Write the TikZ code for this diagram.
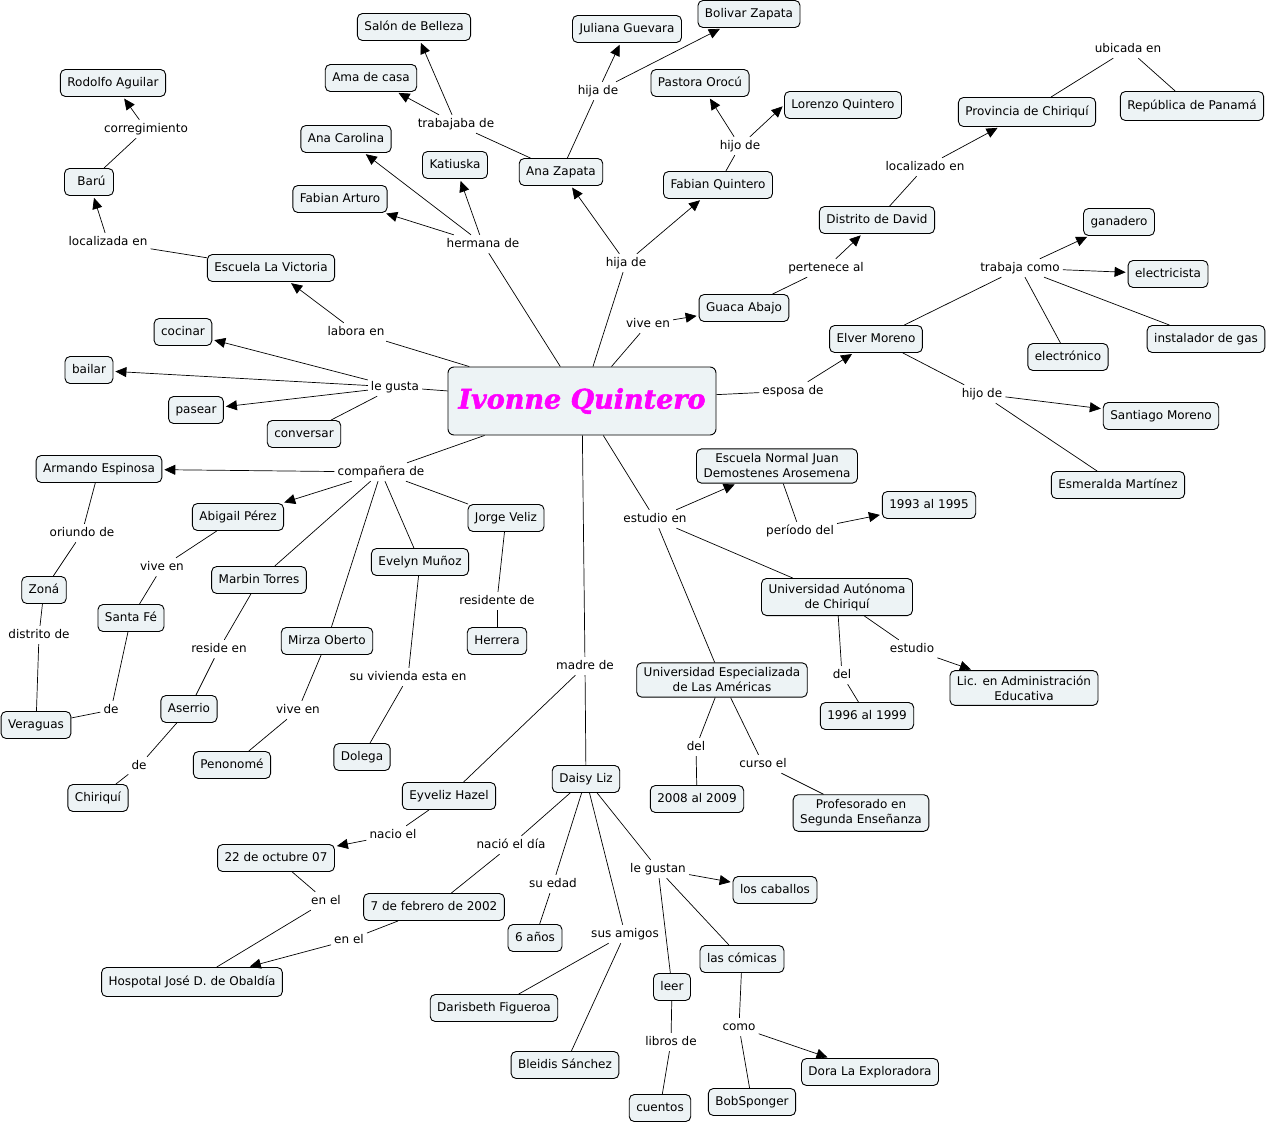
\documentclass[tikz,border=0pt]{standalone}
\usepackage{fontspec}
\setmainfont{DejaVu Sans}
\newfontfamily\titlefont{DejaVu Serif}[BoldItalicFeatures={FakeBold=1.8}]
\usetikzlibrary{arrows.meta}
\definecolor{cfill}{RGB}{237,243,245}
\definecolor{titlemag}{RGB}{255,0,255}
\begin{document}
\begin{tikzpicture}[x=1pt,y=-1pt,
  concept/.style={draw, line width=0.9pt, rounded corners=5pt, fill=cfill, inner xsep=7pt, inner ysep=0pt, minimum height=27pt, text height=9pt, text depth=3pt, font=\fontsize{12}{15}\selectfont},
  concepttwo/.style={draw, line width=0.9pt, rounded corners=5pt, fill=cfill, inner xsep=7pt, inner ysep=5pt, align=center, font=\fontsize{12}{15}\selectfont},
  lp/.style={inner sep=3pt, text height=9pt, text depth=3pt, font=\fontsize{12}{15}\selectfont},
  ln/.style={line width=0.7pt},
  ar/.style={line width=0.7pt, -{Triangle[length=11pt,width=10pt]}, shorten >=2pt},
]
\useasboundingbox[fill=white] (0,0) rectangle (1270,1122);

% main
\node[draw, line width=0.9pt, rounded corners=6pt, fill=cfill, minimum width=268pt, minimum height=68pt,
  font=\titlefont\bfseries\itshape\fontsize{27}{32}\selectfont, text=titlemag] (main) at (582,401) {Ivonne Quintero};

% concepts
\node[concept] (salon) at (414,27) {Salón de Belleza};
\node[concept] (ama) at (371,78) {Ama de casa};
\node[concept] (anacar) at (346,139) {Ana Carolina};
\node[concept] (katiuska) at (455,165) {Katiuska};
\node[concept] (fabart) at (340,199) {Fabian Arturo};
\node[concept] (anazapata) at (561,172) {Ana Zapata};
\node[concept] (juliana) at (627,29) {Juliana Guevara};
\node[concept] (bolivar) at (749,14) {Bolivar Zapata};
\node[concept] (pastora) at (700,83) {Pastora Orocú};
\node[concept] (lorenzo) at (843,105) {Lorenzo Quintero};
\node[concept] (fabquin) at (718,185) {Fabian Quintero};
\node[concept] (rodolfo) at (113,83) {Rodolfo Aguilar};
\node[concept, minimum width=49pt] (baru) at (89,182) {\hspace{5pt}Barú};
\node[concept] (escuela) at (271,268) {Escuela La Victoria};
\node[concept] (cocinar) at (183,332) {cocinar};
\node[concept] (bailar) at (89,370) {bailar};
\node[concept] (pasear) at (196,410) {pasear};
\node[concept] (conversar) at (304,434) {conversar};
\node[concept] (guaca) at (744,308) {Guaca Abajo};
\node[concept] (distrito) at (877,220) {Distrito de David};
\node[concept, minimum height=29pt] (provincia) at (1027,112) {Provincia de Chiriquí};
\node[concept, minimum height=29pt] (republica) at (1192,106) {República de Panamá};
\node[concept] (ganadero) at (1119,222) {ganadero};
\node[concept] (electricista) at (1168,274) {electricista};
\node[concept] (elver) at (876,339) {Elver Moreno};
\node[concept] (electronico) at (1068,357) {electrónico};
\node[concept] (instalador) at (1206,339) {instalador de gas};
\node[concept] (santiago) at (1161,416) {Santiago Moreno};
\node[concept] (esmeralda) at (1118,485) {Esmeralda Martínez};
\node[concepttwo] (escnormal) at (777,466) {Escuela Normal Juan\\Demostenes Arosemena};
\node[concept] (y9395) at (929,505) {1993 al 1995};
\node[concepttwo] (unachi) at (837,597) {Universidad Autónoma\\de Chiriquí};
\node[concepttwo] (lic) at (1024,688) {Lic. en Administración\\Educativa};
\node[concept] (y9699) at (867,716) {1996 al 1999};
\node[concepttwo] (udelas) at (722,680) {Universidad Especializada\\de Las Américas};
\node[concept] (y0809) at (697,799) {2008 al 2009};
\node[concepttwo] (profesorado) at (861,813) {Profesorado en\\Segunda Enseñanza};
\node[concept] (armando) at (99,469) {Armando Espinosa};
\node[concept] (abigail) at (238,517) {Abigail Pérez};
\node[concept] (jorge) at (506,518) {Jorge Veliz};
\node[concept] (evelyn) at (420,562) {Evelyn Muñoz};
\node[concept] (marbin) at (259,580) {Marbin Torres};
\node[concept] (zona) at (44,590) {Zoná};
\node[concept] (santafe) at (131,618) {Santa Fé};
\node[concept] (herrera) at (497,641) {Herrera};
\node[concept] (mirza) at (327,641) {Mirza Oberto};
\node[concept] (veraguas) at (36,725) {Veraguas};
\node[concept] (aserrio) at (189,709) {Aserrio};
\node[concept] (penonome) at (232,765) {Penonomé};
\node[concept] (dolega) at (362,757) {Dolega};
\node[concept] (chiriqui) at (98,798) {Chiriquí};
\node[concept] (eyveliz) at (449,796) {Eyveliz Hazel};
\node[concept] (daisy) at (586,779) {Daisy Liz};
\node[concept] (oct22) at (276,858) {22 de octubre 07};
\node[concept] (feb7) at (434,907) {7 de febrero de 2002};
\node[concept] (anos6) at (535,938) {6 años};
\node[concept, minimum height=29pt] (hospital) at (192,982) {Hospotal José D. de Obaldía};
\node[concept] (caballos) at (775,890) {los caballos};
\node[concept] (comicas) at (742,959) {las cómicas};
\node[concept] (leer) at (672,987) {leer};
\node[concept] (darisbeth) at (494,1008) {Darisbeth Figueroa};
\node[concept] (bleidis) at (565,1065) {Bleidis Sánchez};
\node[concept] (cuentos) at (660,1108) {cuentos};
\node[concept] (bob) at (752,1102) {BobSponger};
\node[concept] (dora) at (870,1072) {Dora La Exploradora};

% linking phrases
\node[lp] (trab) at (456,124) {trabajaba de};
\node[lp] (hijadetop) at (598,91) {hija de};
\node[lp] (hijodetop) at (740,146) {hijo de};
\node[lp] (correg) at (146,129) {corregimiento};
\node[lp] (hermana) at (483,244) {hermana de};
\node[lp] (hijademid) at (626,263) {hija de};
\node[lp] (localizada) at (108,242) {localizada en};
\node[lp] (labora) at (356,332) {labora en};
\node[lp] (legusta) at (395,387) {le gusta};
\node[lp] (viveen) at (648,324) {vive en};
\node[lp] (pertenece) at (826,268) {pertenece al};
\node[lp] (localizado) at (925,167) {localizado en};
\node[lp] (ubicada) at (1128,49) {ubicada en};
\node[lp] (trabaja) at (1020,268) {trabaja como};
\node[lp] (esposa) at (793,391) {esposa de};
\node[lp] (hijodeel) at (982,394) {hijo de};
\node[lp] (companera) at (381,472) {compañera de};
\node[lp] (oriundo) at (82,533) {oriundo de};
\node[lp] (viveab) at (162,567) {vive en};
\node[lp] (distde) at (39,635) {distrito de};
\node[lp] (reside) at (219,649) {reside en};
\node[lp] (residente) at (497,601) {residente de};
\node[lp] (vivienda) at (408,677) {su vivienda esta en};
\node[lp] (vivemi) at (298,710) {vive en};
\node[lp] (desf) at (111,710) {de};
\node[lp] (deas) at (139,766) {de};
\node[lp] (estudioen) at (655,519) {estudio en};
\node[lp] (periodo) at (800,531) {período del};
\node[lp] (estudio) at (912,649) {estudio};
\node[lp] (delun) at (842,675) {del};
\node[lp] (delud) at (696,747) {del};
\node[lp] (curso) at (763,764) {curso el};
\node[lp] (madre) at (585,666) {madre de};
\node[lp] (nacio) at (393,835) {nacio el};
\node[lp] (naciodia) at (511,845) {nació el día};
\node[lp] (suedad) at (553,884) {su edad};
\node[lp] (legustan) at (658,869) {le gustan};
\node[lp] (amigos) at (625,934) {sus amigos};
\node[lp] (enelA) at (326,901) {en el};
\node[lp] (enelB) at (349,940) {en el};
\node[lp] (libros) at (671,1042) {libros de};
\node[lp] (como) at (739,1027) {como};

% connectors
\draw[ln] (anazapata) -- (trab);
\draw[ar] (trab) -- (salon);
\draw[ar] (trab) -- (ama);
\draw[ln] (anazapata) -- (hijadetop);
\draw[ar] (hijadetop) -- (juliana);
\draw[ar] (hijadetop) -- (bolivar);
\draw[ln] (fabquin) -- (hijodetop);
\draw[ar] (hijodetop) -- (pastora);
\draw[ar] (hijodetop) -- (lorenzo.west);
\draw[ln] (baru) -- (correg);
\draw[ar] (correg) -- (rodolfo);
\draw[ln] (main) -- (hermana);
\draw[ar] (hermana) -- (anacar);
\draw[ar] (hermana) -- (katiuska);
\draw[ar] (hermana) -- (fabart);
\draw[ln] (main) -- (hijademid);
\draw[ar] (hijademid) -- (anazapata);
\draw[ar] (hijademid) -- (fabquin);
\draw[ln] (escuela) -- (localizada);
\draw[ar] (localizada) -- (baru);
\draw[ln] (main) -- (labora);
\draw[ar] (labora) -- (escuela);
\draw[ln] (main) -- (legusta);
\draw[ar] (legusta) -- (cocinar);
\draw[ar] (legusta) -- (bailar);
\draw[ar] (legusta) -- (pasear);
\draw[ln] (legusta) -- (conversar);
\draw[ln] (main) -- (viveen);
\draw[ar] (viveen) -- (guaca);
\draw[ln] (guaca) -- (pertenece);
\draw[ar] (pertenece) -- (distrito);
\draw[ln] (distrito) -- (localizado);
\draw[ar] (localizado) -- (provincia);
\draw[ln] (provincia) -- (ubicada);
\draw[ln] (ubicada) -- (republica);
\draw[ln] (elver) -- (trabaja);
\draw[ar] (trabaja) -- (ganadero);
\draw[ar] (trabaja) -- (electricista);
\draw[ln] (trabaja) -- (electronico);
\draw[ln] (trabaja) -- (instalador);
\draw[ln] (main) -- (esposa);
\draw[ar] (esposa) -- (elver);
\draw[ln] (elver) -- (hijodeel);
\draw[ar] (hijodeel) -- (santiago);
\draw[ln] (hijodeel) -- (esmeralda);
\draw[ln] (main) -- (companera);
\draw[ar] (companera) -- (armando);
\draw[ar] (companera) -- (abigail);
\draw[ln] (companera) -- (marbin);
\draw[ln] (companera) -- (mirza);
\draw[ln] (companera) -- (evelyn);
\draw[ln] (companera) -- (jorge);
\draw[ln] (armando) -- (oriundo);
\draw[ln] (oriundo) -- (zona);
\draw[ln] (abigail) -- (viveab);
\draw[ln] (viveab) -- (santafe);
\draw[ln] (zona) -- (distde);
\draw[ln] (distde) -- (veraguas);
\draw[ln] (santafe) -- (desf);
\draw[ln] (desf) -- (veraguas);
\draw[ln] (marbin) -- (reside);
\draw[ln] (reside) -- (aserrio);
\draw[ln] (aserrio) -- (deas);
\draw[ln] (deas) -- (chiriqui);
\draw[ln] (mirza) -- (vivemi);
\draw[ln] (vivemi) -- (penonome);
\draw[ln] (evelyn) -- (vivienda);
\draw[ln] (vivienda) -- (dolega);
\draw[ln] (jorge) -- (residente);
\draw[ln] (residente) -- (herrera);
\draw[ln] (main) -- (estudioen);
\draw[ar] (estudioen) -- (escnormal);
\draw[ln] (estudioen) -- (unachi);
\draw[ln] (estudioen) -- (udelas);
\draw[ln] (escnormal) -- (periodo);
\draw[ar] (periodo) -- (y9395);
\draw[ln] (unachi) -- (estudio);
\draw[ar] (estudio) -- (lic);
\draw[ln] (unachi) -- (delun);
\draw[ln] (delun) -- (y9699);
\draw[ln] (udelas) -- (delud);
\draw[ln] (delud) -- (y0809);
\draw[ln] (udelas) -- (curso);
\draw[ln] (curso) -- (profesorado);
\draw[ln] (main) -- (madre);
\draw[ln] (madre) -- (eyveliz);
\draw[ln] (madre) -- (daisy);
\draw[ln] (eyveliz) -- (nacio);
\draw[ar] (nacio) -- (oct22);
\draw[ln] (oct22) -- (enelA);
\draw[ln] (enelA) -- (hospital);
\draw[ln] (daisy) -- (naciodia);
\draw[ln] (naciodia) -- (feb7);
\draw[ln] (feb7) -- (enelB);
\draw[ar] (enelB) -- (hospital);
\draw[ln] (daisy) -- (suedad);
\draw[ln] (suedad) -- (anos6);
\draw[ln] (daisy) -- (legustan);
\draw[ar] (legustan) -- (caballos);
\draw[ln] (legustan) -- (leer);
\draw[ln] (legustan) -- (comicas);
\draw[ln] (daisy) -- (amigos);
\draw[ln] (amigos) -- (darisbeth);
\draw[ln] (amigos) -- (bleidis);
\draw[ln] (leer) -- (libros);
\draw[ln] (libros) -- (cuentos);
\draw[ln] (comicas) -- (como);
\draw[ar] (como) -- (dora);
\draw[ln] (como) -- (bob);
\end{tikzpicture}
\end{document}
